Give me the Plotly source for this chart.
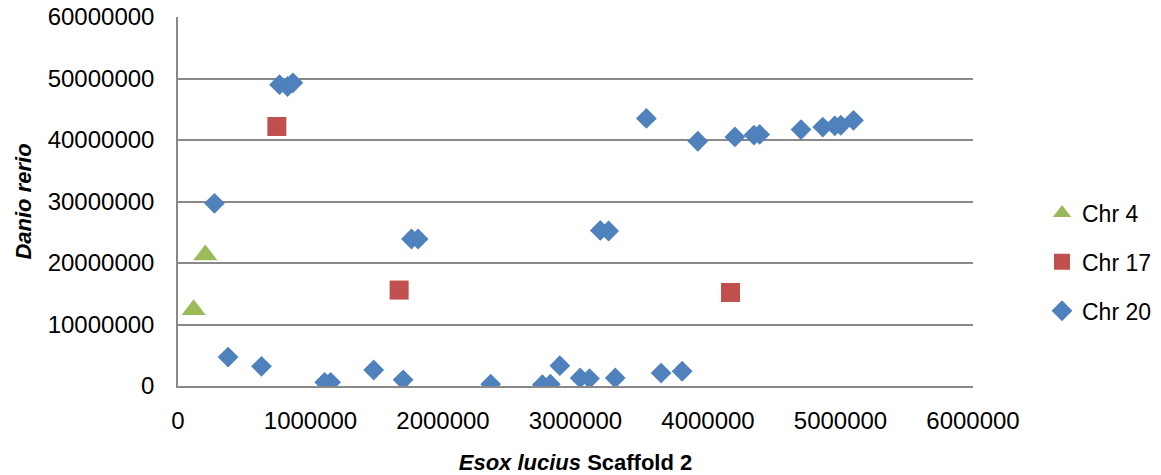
import plotly.graph_objects as go

# Chr 4
chr4_x = [118000, 206000]
chr4_y = [12400000, 21300000]
# Chr 17
chr17_x = [746000, 1669000, 4170000]
chr17_y = [42200000, 15600000, 15200000]
# Chr 20
chr20_x = [275000, 378000, 630000, 766000, 827000, 867000, 1107000, 1152000, 1477000,
           1699000, 1762000, 1812000, 2360000, 2750000, 2810000, 2882000, 3035000,
           3106000, 3187000, 3250000, 3300000, 3535000, 3646000, 3805000, 3923000,
           4203000, 4347000, 4390000, 4702000, 4866000, 4957000, 5002000, 5098000]
chr20_y = [29700000, 4700000, 3200000, 49000000, 48700000, 49300000, 600000, 600000, 2600000,
           1000000, 23900000, 23900000, 300000, 200000, 300000, 3300000, 1300000,
           1200000, 25300000, 25200000, 1300000, 43500000, 2100000, 2400000, 39800000,
           40500000, 40800000, 40900000, 41700000, 42100000, 42300000, 42400000, 43200000]

FONT = "Liberation Sans"
fig = go.Figure()
fig.add_trace(go.Scatter(x=chr4_x, y=chr4_y, mode="markers", name="Chr 4", legendgroup="a",
                         marker=dict(symbol="triangle-up", size=21, color="#9BBB59")))
fig.add_trace(go.Scatter(x=chr17_x, y=chr17_y, mode="markers", name="Chr 17", legendgroup="b",
                         marker=dict(symbol="square", size=19, color="#C0504D")))
fig.add_trace(go.Scatter(x=chr20_x, y=chr20_y, mode="markers", name="Chr 20", legendgroup="c",
                         marker=dict(symbol="diamond", size=16, color="#4F81BD")))

fig.update_layout(
    width=1161, height=475,
    margin=dict(l=178, r=188, t=17, b=89, autoexpand=False),
    paper_bgcolor="white", plot_bgcolor="white",
    font=dict(family=FONT, size=24, color="black"),
    legend=dict(x=1.0868, xanchor="left", y=0.336, yanchor="middle",
                tracegroupgap=16, font=dict(size=23), itemsizing="trace"),
    xaxis=dict(range=[0, 6000000], dtick=1000000, tickformat="d", showgrid=False,
               zeroline=False, showline=True, linecolor="#898989", linewidth=1.5,
               ticks="", automargin=False, ticklabelstandoff=12,
               ticklabeloverflow="allow",
               title=dict(text="<b><i>Esox lucius</i> Scaffold 2</b>", standoff=26,
                          font=dict(size=22))),
    yaxis=dict(range=[0, 60000000], dtick=10000000, tickformat="d", showgrid=True,
               gridcolor="#898989", gridwidth=1.5, zeroline=False, showline=True,
               linecolor="#898989", linewidth=1.5, ticks="", automargin=False,
               ticklabelstandoff=17, ticklabeloverflow="allow",
               title=dict(text="<b><i>Danio rerio</i></b>", standoff=10,
                          font=dict(size=22))),
)
fig.write_html("out.html", config={"displayModeBar": False},
               post_script="document.body.style.margin='0';")
